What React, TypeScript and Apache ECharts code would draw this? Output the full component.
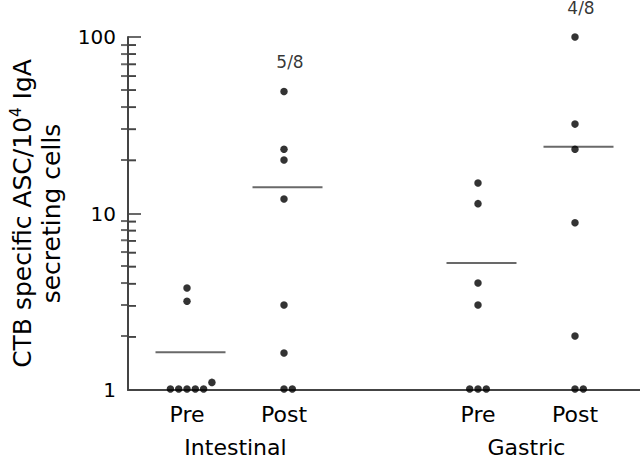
import React, { useEffect, useRef } from "react";
import * as echarts from "echarts";

// ---- data ----
const slotLabels = ["Pre", "Post", "", "Pre", "Post"];
const groupNames = ["Intestinal", "Gastric"];
const groupSlots = [[0, 1], [3, 4]];
const intestinalPre = [3.75, 3.15, 1, 1, 1, 1, 1, 1.09];
const intestinalPost = [49, 23, 20, 12, 3, 1.6, 1, 1];
const gastricPre = [14.8, 11.3, 4, 3, 1, 1, 1];
const gastricPost = [100, 32, 23, 8.8, 2, 1, 1];
const medians = [1.62, 14, 5.2, 23.8];
const responders = ["", "5/8", "", "4/8"];
const columnNames = ["Intestinal Pre", "Intestinal Post", "Gastric Pre", "Gastric Post"];
const yMin = 1;
const yMax = 100;
const minorMultipliers = [2, 3, 4, 5, 6, 7, 8, 9];

const FONT = "DejaVu Sans";
const AXIS = "#444";
const TEXT = "#000";
const AXIS_LEFT = 121;
const PLOT_LEFT = 138.5;
const PLOT_RIGHT = 16.5;
const MINOR_LEN = 8;

function swarmSlots(vals: number[]): number[] {
  const order = vals.map((_, i) => i).sort((a, b) => vals[a] - vals[b]);
  const placed: { v: number; s: number }[] = [];
  const slots: number[] = new Array(vals.length).fill(0);
  for (const i of order) {
    const v = vals[i];
    for (let k = 0; k < 50; k++) {
      const s = k === 0 ? 0 : k % 2 === 1 ? (k + 1) / 2 : -k / 2;
      if (!placed.some((p) => p.s === s && Math.abs(Math.log10(p.v / v)) < 0.05)) {
        placed.push({ v, s });
        slots[i] = s;
        break;
      }
    }
  }
  return slots;
}

function minorTickValues(lo: number, hi: number): number[] {
  const out: number[] = [];
  for (let base = lo; base < hi; base = base * 10) {
    for (const k of minorMultipliers) {
      const v = k * base;
      if (v < hi) out.push(v);
    }
  }
  return out;
}

export default function App() {
  const ref = useRef<HTMLDivElement>(null);
  useEffect(() => {
    if (!ref.current) return;
    const chart = echarts.init(ref.current, null, { renderer: "svg" });
    const columns = [intestinalPre, intestinalPost, gastricPre, gastricPost];
    const columnSlots = slotLabels.map((l, i) => (l ? i : -1)).filter((i) => i >= 0);
    const groupAt: Record<string, string> = {};
    groupSlots.forEach((g, i) => {
      groupAt[((g[0] + g[1]) / 2).toFixed(1)] = groupNames[i];
    });
    const minorVals = minorTickValues(yMin, yMax);

    const pointSeries = columns.map((vals, c) => {
      const slots = swarmSlots(vals);
      const maxV = Math.max(...vals);
      let labelled = false;
      return {
        name: columnNames[c],
        type: "scatter",
        xAxisIndex: 1,
        yAxisIndex: 1,
        clip: false,
        symbol: "circle",
        symbolSize: 7.5,
        itemStyle: { color: "#000" },
        data: vals.map((v, i) => {
          const item: any = {
            value: [columnSlots[c], v],
            symbolOffset: [slots[i] * 8.3, 0],
          };
          if (responders[c] && v === maxV && !labelled) {
            labelled = true;
            item.label = {
              show: true,
              formatter: responders[c],
              position: "top",
              distance: 17,
              offset: [6, 0],
              fontSize: 17,
              fontFamily: FONT,
              color: TEXT,
            };
          }
          return item;
        }),
      };
    });

    const medianSeries = {
      name: "Median",
      type: "scatter",
      xAxisIndex: 1,
      yAxisIndex: 1,
      clip: false,
      symbol: "rect",
      symbolSize: [70, 2],
      symbolOffset: [3.5, 0],
      itemStyle: { color: "#444" },
      z: 1,
      data: medians.map((m, i) => [columnSlots[i], m]),
    };

    // minor ticks: one point per tick value on the plotted log scale
    const minorTickSeries = {
      name: "Minor ticks",
      type: "scatter",
      xAxisIndex: 1,
      yAxisIndex: 1,
      clip: false,
      symbol: "rect",
      symbolSize: [MINOR_LEN, 2],
      symbolOffset: [AXIS_LEFT - PLOT_LEFT + MINOR_LEN / 2, 0],
      itemStyle: { color: AXIS },
      z: 3,
      data: minorVals.map((v) => ({ value: [-0.5, v] })),
    };

    // same ticks as a custom series on the axis' own grid
    const minorTickCustom = {
      name: "Minor ticks (axis)",
      type: "custom",
      xAxisIndex: 0,
      yAxisIndex: 0,
      clip: false,
      z: 3,
      data: minorVals.map((v) => [0, v]),
      renderItem: (_p: any, api: any) => {
        const pt = api.coord([0, api.value(1)]);
        return {
          type: "rect",
          shape: { x: pt[0], y: pt[1] - 0.8, width: MINOR_LEN, height: 1.6 },
          style: { fill: AXIS },
        };
      },
    };

    const option: any = {
      animation: false,
      textStyle: { fontFamily: FONT },
      grid: [
        { left: AXIS_LEFT, right: 0, top: 37, bottom: 68 },
        { left: PLOT_LEFT, right: PLOT_RIGHT, top: 37, bottom: 68 },
      ],
      xAxis: [
        {
          gridIndex: 0,
          type: "value",
          min: 0,
          max: 1,
          axisLine: { show: true, onZero: false, lineStyle: { color: AXIS, width: 2 } },
          axisTick: { show: false },
          axisLabel: { show: false },
          splitLine: { show: false },
        },
        {
          gridIndex: 1,
          type: "value",
          min: -0.5,
          max: 4.5,
          interval: 0.5,
          axisLine: { show: false },
          axisTick: { show: false },
          splitLine: { show: false },
          axisLabel: {
            fontSize: 22,
            fontFamily: FONT,
            color: TEXT,
            margin: 14,
            formatter: (v: number) => {
              const r = Math.round(v);
              return Math.abs(v - r) < 1e-6 ? slotLabels[r] ?? "" : "";
            },
          },
        },
        {
          gridIndex: 1,
          type: "value",
          position: "bottom",
          offset: 33,
          min: -0.5,
          max: 4.5,
          interval: 0.5,
          axisLine: { show: false },
          axisTick: { show: false },
          splitLine: { show: false },
          axisLabel: {
            fontSize: 22,
            fontFamily: FONT,
            color: TEXT,
            margin: 14,
            formatter: (v: number) => groupAt[v.toFixed(1)] ?? "",
          },
        },
      ],
      yAxis: [
        {
          gridIndex: 0,
          type: "log",
          logBase: 10,
          min: yMin,
          max: yMax,
          axisLine: { show: true, lineStyle: { color: AXIS, width: 2 } },
          axisTick: { show: true, inside: true, length: 13, lineStyle: { color: AXIS, width: 1.6 } },
          splitLine: { show: false },
          axisLabel: { fontSize: 20, fontFamily: FONT, color: TEXT, margin: 12 },
          name: "{n|CTB specific ASC/10}{s|4}{n| IgA}\n{n|secreting cells}",
          nameLocation: "middle",
          nameRotate: 90,
          nameGap: 62,
          nameTextStyle: {
            fontFamily: FONT,
            fontSize: 25,
            color: TEXT,
            lineHeight: 29,
            rich: {
              n: { fontFamily: FONT, fontSize: 25, color: TEXT, lineHeight: 29 },
              s: { fontFamily: FONT, fontSize: 15, color: TEXT, lineHeight: 15, verticalAlign: "top" },
            },
          },
        },
        { gridIndex: 1, type: "log", logBase: 10, min: yMin, max: yMax, show: false },
      ],
      series: [...pointSeries, medianSeries, minorTickSeries, minorTickCustom],
    };
    chart.setOption(option);

    // and as plain graphic lines placed through the axis' own scale
    const x0 = chart.convertToPixel({ xAxisIndex: 0 } as any, 0) as number;
    const ticks = minorVals.map((v, i) => {
      const y = chart.convertToPixel({ yAxisIndex: 0 } as any, v) as number;
      return {
        id: "minor" + i,
        type: "line",
        z: 10,
        shape: { x1: x0, y1: y, x2: x0 + MINOR_LEN, y2: y },
        style: { stroke: AXIS, lineWidth: 1.6 },
      };
    });
    chart.setOption({ graphic: { elements: ticks } });
    return () => chart.dispose();
  }, []);
  return (
    <div
      ref={ref}
      style={{ position: "absolute", left: 0, top: 0, width: 640, height: 458, background: "#fff" }}
    />
  );
}
